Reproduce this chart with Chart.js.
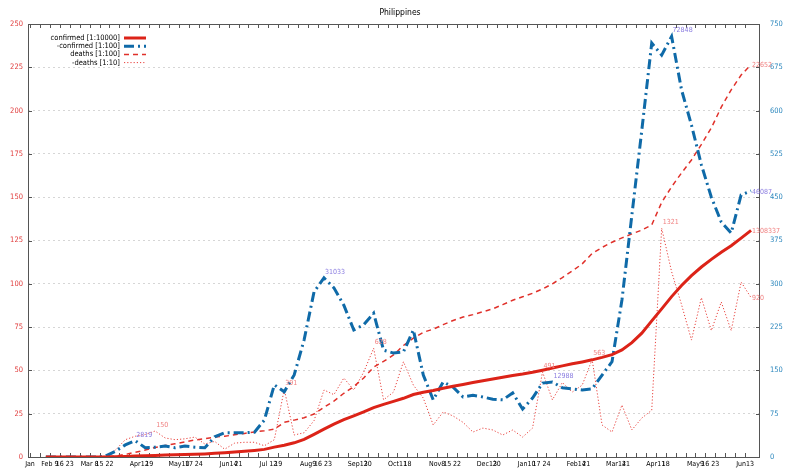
<!DOCTYPE html>
<html>
<head>
<meta charset="utf-8">
<script src="https://cdn.jsdelivr.net/npm/chart.js@4/dist/chart.umd.min.js"></script>
<style>
html, body { margin: 0; padding: 0; background: #fff; }
</style>
</head>
<body>
<canvas id="chart" width="800" height="473"></canvas>
<script>
// weekly ticks, 2020-01-26 .. 2021-06-13 (blank = unlabelled tick)
const weekLabels = [
	"Jan", "", "Feb 9", "16", "23", "", "Mar 8", "15", "22", "", "",
	"Apr12", "19", "", "", "May10", "17", "24", "", "", "Jun14", "21", "", "",
	"Jul 12", "19", "", "", "Aug9", "16", "23", "", "", "Sep13", "20", "", "",
	"Oct11", "18", "", "", "Nov8", "15", "22", "", "", "Dec13", "20", "", "",
	"Jan10", "17", "24", "", "", "Feb14", "21", "", "", "Mar14", "21", "", "",
	"Apr11", "18", "", "", "May9", "16", "23", "", "", "Jun13"
];

// cumulative confirmed / 10000
const confirmedTotal = [
	0, 0, 0, 0, 0, 0, 0.02, 0.1, 0.3, 0.6,
	0.75, 0.9, 1.1, 1.25, 1.45, 1.6, 1.8, 2.1, 2.5, 2.9,
	3.3, 3.8, 4.4, 5.7, 6.8, 8.2, 10.2, 13.1, 16.1, 19.0,
	21.6, 23.8, 26.0, 28.5, 30.4, 32.1, 33.9, 36.1, 37.4, 38.4,
	39.7, 40.9, 41.9, 43.0, 44.0, 45.0, 46.0, 47.1, 47.9, 48.9,
	50.1, 51.4, 52.6, 53.8, 54.9, 56.1, 57.5, 59.1, 61.8, 66.0,
	71.5, 78.6, 85.5, 92.6, 99.0, 104.7, 109.7, 114.1, 118.2, 122.0,
	126.4, 130.8337
];

// weekly new confirmed / 100 (right axis)
const confirmedWeekly = [
	0, 0, 0, 0, 0, 0.3, 1.5, 10, 21, 28.19,
	16, 17, 19, 16, 19, 17, 16, 35, 42, 42,
	42, 43, 64, 125, 113, 142, 203, 286, 310.33, 293,
	263, 220, 229, 249, 185, 180, 182, 220, 142, 99,
	130, 121, 104, 107, 104, 100, 99, 111, 83, 102,
	128, 129.88, 120, 118, 116, 118, 142, 165, 272, 419,
	566, 717, 696, 728.48, 636, 575, 506, 450, 407, 388,
	454, 460.87
];

// cumulative deaths / 100
const deathsTotal = [
	0, 0, 0, 0, 0, 0, 0.1, 0.5, 1.5, 2.7,
	4, 5.5, 6.6, 7.6, 8.7, 9.8, 10.6, 11.5, 12, 12.8,
	13.6, 14.5, 15.1, 16.1, 20, 21.3, 22.7, 24.8, 28.7, 32.3,
	36.8, 40.7, 45.6, 51.9, 55.2, 58.9, 64.4, 68.6, 72, 73.8,
	76.4, 78.8, 80.8, 82.2, 83.9, 85.5, 88, 90.5, 92.5, 94.5,
	97, 100, 103.6, 107.4, 111.5, 117.5, 121, 124, 126.5, 128.8,
	131, 134, 147, 156, 164, 171.5, 180.5, 190, 202, 212,
	220.5, 226.52
];

// weekly new deaths / 10
const deathsWeekly = [
	0, 0, 0, 0, 0, 0, 0.5, 4, 10, 12,
	13, 15.0, 11, 10, 10.5, 11.5, 7.5, 9, 4.5, 8,
	8.5, 8.5, 6.5, 10, 39.1, 12.7, 14, 21, 38.7, 36,
	45.6, 38.7, 49, 62.8, 33, 37.5, 55, 41.5, 34, 18.5,
	26, 23.7, 20, 14.4, 16.7, 15.6, 12.7, 15.6, 11.5, 16.7,
	49.1, 33, 43, 37.5, 41.5, 56.3, 18.5, 14.4, 30, 15.6,
	22.5, 27, 132.1, 107, 88, 67.5, 92, 73, 89.5, 73,
	101, 92.0
];

// points that carry a value label
const confirmedTotalMarks = [71];
const confirmedWeeklyMarks = [9, 28, 51, 63, 71];
const deathsTotalMarks = [71];
const deathsWeeklyMarks = [11, 24, 33, 50, 55, 62, 71];

const firstPointWeek = 1.6;
const FONT = "\"DejaVu Sans Condensed\", \"DejaVu Sans\", sans-serif";

function toPoints(values) {
	return values.map((v, k) => ({x: k + firstPointWeek, y: v}));
}

const framePlugin = {
	id: "frame",
	beforeDatasetsDraw(chart) {
		const {ctx, chartArea: a, scales} = chart;
		ctx.save();
		ctx.strokeStyle = "#555";
		ctx.lineWidth = 1;
		ctx.beginPath();
		ctx.rect(a.left + 0.5, a.top + 0.5, a.right - a.left - 1, a.bottom - a.top);
		scales.x.ticks.forEach(t => {
			const px = Math.round(scales.x.getPixelForValue(t.value)) + 0.5;
			ctx.moveTo(px, a.bottom);
			ctx.lineTo(px, a.bottom - 4);
			ctx.moveTo(px, a.top);
			ctx.lineTo(px, a.top + 4);
		});
		scales.yLeft.ticks.forEach(t => {
			const py = Math.round(scales.yLeft.getPixelForValue(t.value)) + 0.5;
			ctx.moveTo(a.left, py);
			ctx.lineTo(a.left + 4, py);
		});
		scales.yRight.ticks.forEach(t => {
			const py = Math.round(scales.yRight.getPixelForValue(t.value)) + 0.5;
			ctx.moveTo(a.right, py);
			ctx.lineTo(a.right - 4, py);
		});
		ctx.stroke();
		ctx.restore();
	}
};

const markPlugin = {
	id: "marks",
	afterDatasetsDraw(chart) {
		const ctx = chart.ctx;
		ctx.save();
		ctx.font = "7px " + FONT;
		ctx.textBaseline = "middle";
		ctx.textAlign = "left";
		chart.data.datasets.forEach((ds, di) => {
			const meta = chart.getDatasetMeta(di);
			ctx.fillStyle = ds.markColor;
			ds.marks.forEach(k => {
				const el = meta.data[k];
				const last = k === ds.data.length - 1;
				const text = String(Math.round(ds.data[k].y * ds.ratio));
				ctx.fillText(text, el.x + 1, el.y + (last ? 1 : -6));
			});
		});
		ctx.restore();
	}
};

const keyPlugin = {
	id: "key",
	afterDraw(chart) {
		const ctx = chart.ctx;
		ctx.save();
		ctx.font = "7.5px " + FONT;
		ctx.textAlign = "right";
		ctx.textBaseline = "middle";
		chart.data.datasets.forEach((ds, i) => {
			const y = 38 + i * 8.2;
			ctx.fillStyle = "#000";
			ctx.fillText(ds.label, 120, y);
			ctx.strokeStyle = ds.borderColor;
			ctx.lineWidth = ds.borderWidth;
			ctx.setLineDash(ds.borderDash || []);
			ctx.beginPath();
			ctx.moveTo(124, y);
			ctx.lineTo(146, y);
			ctx.stroke();
		});
		ctx.restore();
	}
};

new Chart(document.getElementById("chart"), {
	type: "line",
	data: {
		datasets: [{
			label: "confirmed [1:10000]",
			data: toPoints(confirmedTotal),
			yAxisID: "yLeft",
			borderColor: "#dc2318",
			borderWidth: 3,
			marks: confirmedTotalMarks,
			markColor: "#f08080",
			ratio: 10000,
		}, {
			label: "-confirmed [1:100]",
			data: toPoints(confirmedWeekly),
			yAxisID: "yRight",
			borderColor: "#0f6aa8",
			borderWidth: 3,
			borderDash: [10, 4, 2, 4],
			marks: confirmedWeeklyMarks,
			markColor: "#8a7ce0",
			ratio: 100,
		}, {
			label: "deaths [1:100]",
			data: toPoints(deathsTotal),
			yAxisID: "yLeft",
			borderColor: "#e0302a",
			borderWidth: 1.5,
			borderDash: [5, 4],
			marks: deathsTotalMarks,
			markColor: "#f08080",
			ratio: 100,
		}, {
			label: "-deaths [1:10]",
			data: toPoints(deathsWeekly),
			yAxisID: "yLeft",
			borderColor: "#e8413c",
			borderWidth: 1,
			borderDash: [1.2, 2],
			marks: deathsWeeklyMarks,
			markColor: "#f08080",
			ratio: 10,
		}]
	},
	options: {
		responsive: false,
		animation: false,
		elements: {
			point: {radius: 0},
			line: {tension: 0, fill: false},
		},
		layout: {padding: 0},
		plugins: {
			legend: {display: false},
			tooltip: {enabled: false},
			title: {
				display: true,
				text: "Philippines",
				color: "#000",
				font: {family: FONT, size: 8.5, weight: "normal"},
				padding: {top: 8, bottom: 5.8},
			},
		},
		scales: {
			x: {
				type: "linear",
				min: -0.2,
				max: 73.5,
				afterBuildTicks: axis => {
					axis.ticks = weekLabels.map((_, i) => ({value: i}));
				},
				afterFit: axis => { axis.height = 16; },
				ticks: {
					autoSkip: false,
					maxRotation: 0,
					minRotation: 0,
					padding: 3,
					color: "#000",
					font: {family: FONT, size: 7},
					callback: v => weekLabels[v] ?? "",
				},
				grid: {display: false, drawTicks: false},
				border: {display: false},
			},
			yLeft: {
				position: "left",
				min: 0,
				max: 250,
				afterFit: axis => { axis.width = 28; },
				ticks: {
					stepSize: 25,
					padding: 5,
					color: "#e03a3a",
					font: {family: FONT, size: 7.5},
				},
				grid: {color: "#d6d6d6", lineWidth: 1, drawTicks: false},
				border: {display: false, dash: [2, 3]},
			},
			yRight: {
				position: "right",
				min: 0,
				max: 750,
				afterFit: axis => { axis.width = 40; },
				ticks: {
					stepSize: 75,
					padding: 10,
					color: "#2a86bd",
					font: {family: FONT, size: 7.5},
				},
				grid: {display: false, drawTicks: false},
				border: {display: false},
			},
		},
	},
	plugins: [framePlugin, markPlugin, keyPlugin],
});
</script>
</body>
</html>
